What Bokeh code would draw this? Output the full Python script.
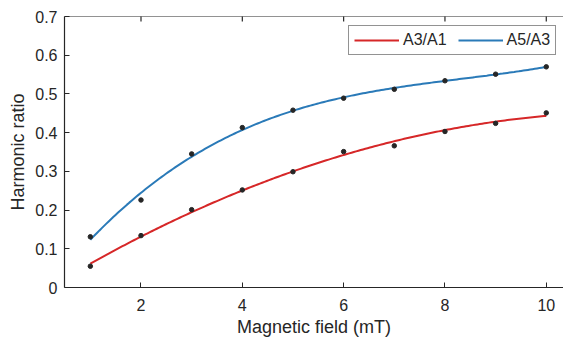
import numpy as np
from bokeh.plotting import figure
from bokeh.models import Range1d, FixedTicker, Legend, LegendItem, Span
from bokeh.embed import file_html
from bokeh.resources import INLINE

# Data
field_mT = [1, 2, 3, 4, 5, 6, 7, 8, 9, 10]
ratio_a3_a1 = [0.055, 0.134, 0.201, 0.252, 0.299, 0.351, 0.366, 0.403, 0.424, 0.451]
ratio_a5_a3 = [0.131, 0.226, 0.345, 0.413, 0.458, 0.489, 0.512, 0.534, 0.551, 0.570]
x_ticks = [2, 4, 6, 8, 10]
y_ticks = [0, 0.1, 0.2, 0.3, 0.4, 0.5, 0.6, 0.7]
labels = ["A3/A1", "A5/A3"]

# least-squares polynomial fits of the measured points
xs = np.linspace(min(field_mT), max(field_mT), 200)
fit_red = np.polyval(np.polyfit(field_mT, ratio_a3_a1, 2), xs)
fit_blue = np.polyval(np.polyfit(field_mT, ratio_a5_a3, 3), xs)

RED = "#d62728"
BLUE = "#2a7ab8"
DARK = "#262626"
FONT = "Liberation Sans"

p = figure(width=563, height=339, output_backend="svg", toolbar_location=None,
           x_range=Range1d(0.49, 10.34), y_range=Range1d(0, 0.7),
           min_border_left=64, min_border_right=0, min_border_top=16, min_border_bottom=52,
           x_axis_label="Magnetic field (mT)", y_axis_label="Harmonic ratio")
p.outline_line_color = None
p.grid.visible = False
p.background_fill_color = "white"
p.border_fill_color = "white"

r1 = p.line(xs, fit_red, line_color=RED, line_width=2)
r2 = p.line(xs, fit_blue, line_color=BLUE, line_width=2)
p.scatter(field_mT, ratio_a3_a1, size=4.5, color=DARK)
p.scatter(field_mT, ratio_a5_a3, size=4.5, color=DARK)

for ax in (p.xaxis[0], p.yaxis[0]):
    ax.axis_line_color = DARK
    ax.axis_line_width = 1.2
    ax.major_tick_line_color = DARK
    ax.major_tick_in = 5
    ax.major_tick_out = 0
    ax.minor_tick_line_color = None
    ax.major_label_text_font = FONT
    ax.major_label_text_font_size = "16px"
    ax.major_label_text_color = DARK
    ax.axis_label_text_font = FONT
    ax.axis_label_text_font_size = "18px"
    ax.axis_label_text_font_style = "normal"
    ax.axis_label_text_color = DARK

p.xaxis.ticker = FixedTicker(ticks=x_ticks)
p.yaxis.ticker = FixedTicker(ticks=y_ticks)
p.yaxis.major_label_overrides = {0: "0"}
p.xaxis.major_label_standoff = 11
p.yaxis.major_label_standoff = 7
p.xaxis.axis_label_standoff = 3
p.yaxis.axis_label_standoff = 4

# top frame edge with inward ticks
p.add_layout(Span(location=0.7, dimension="width", line_color=DARK, line_width=1.2))
p.scatter(x_ticks, [0.7] * len(x_ticks), marker="dash", angle=np.pi / 2, size=10,
          line_color=DARK, line_width=1.2)

legend = Legend(items=[LegendItem(label=labels[0], renderers=[r1]),
                       LegendItem(label=labels[1], renderers=[r2])],
                orientation="horizontal", location=(284, 232),
                glyph_width=45, glyph_height=16, label_standoff=4, spacing=11,
                padding=5, margin=0,
                label_text_font=FONT, label_text_font_size="16px", label_text_color=DARK,
                border_line_color=DARK, border_line_width=1.2, background_fill_alpha=1)
p.add_layout(legend)

open("out.html", "w").write(file_html(p, INLINE))
